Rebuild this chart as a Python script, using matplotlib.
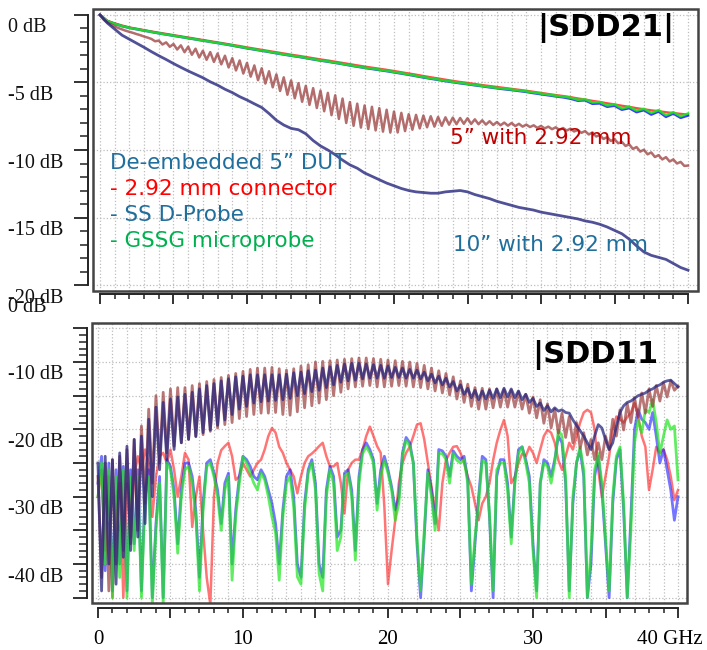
import numpy as np
import matplotlib
matplotlib.use("Agg")
import matplotlib.pyplot as plt
from matplotlib.patches import Rectangle
from matplotlib.ticker import MultipleLocator
from matplotlib.transforms import blended_transform_factory, ScaledTranslation

# frequency sweeps (GHz)
freq_half = np.arange(0, 40.01, 0.5)
freq_quarter = np.arange(0, 40.01, 0.25)

# ---- |SDD21| (dB) ----
s21_gssg = [0, -0.45, -0.65, -0.82, -0.95, -1.05, -1.15, -1.25, -1.35, -1.44,
            -1.53, -1.62, -1.71, -1.8, -1.89, -1.98, -2.07, -2.16, -2.25, -2.35,
            -2.45, -2.54, -2.63, -2.72, -2.82, -2.91, -3.0, -3.08, -3.17, -3.27,
            -3.36, -3.44, -3.53, -3.62, -3.72, -3.81, -3.9, -3.97, -4.05, -4.13,
            -4.22, -4.31, -4.4, -4.5, -4.6, -4.69, -4.78, -4.87, -4.95, -5.03,
            -5.1, -5.18, -5.25, -5.33, -5.4, -5.46, -5.52, -5.59, -5.66, -5.74,
            -5.82, -5.9, -5.98, -6.05, -6.12, -6.28, -6.25, -6.48, -6.45, -6.7,
            -6.62, -6.92, -6.8, -7.08, -6.95, -7.25, -7.05, -7.42, -7.2, -7.5, -7.3]
s21_conn = [0, -0.43, -0.62, -0.78, -0.92, -1.02, -1.12, -1.22, -1.31, -1.4,
            -1.49, -1.58, -1.67, -1.76, -1.85, -1.94, -2.03, -2.12, -2.21, -2.3,
            -2.4, -2.49, -2.58, -2.67, -2.76, -2.85, -2.94, -3.02, -3.11, -3.2,
            -3.29, -3.37, -3.46, -3.55, -3.64, -3.73, -3.82, -3.9, -3.98, -4.06,
            -4.15, -4.24, -4.33, -4.42, -4.52, -4.61, -4.7, -4.79, -4.88, -4.96,
            -5.03, -5.11, -5.19, -5.26, -5.33, -5.4, -5.47, -5.54, -5.61, -5.69,
            -5.77, -5.85, -5.93, -6.0, -6.08, -6.18, -6.26, -6.36, -6.44, -6.54,
            -6.62, -6.72, -6.8, -6.9, -6.98, -7.06, -7.12, -7.2, -7.26, -7.32, -7.38]
s21_sprobe = [0, -0.46, -0.66, -0.83, -0.96, -1.06, -1.16, -1.26, -1.36, -1.45,
              -1.54, -1.63, -1.72, -1.81, -1.9, -1.99, -2.08, -2.17, -2.27, -2.37,
              -2.47, -2.56, -2.65, -2.74, -2.84, -2.93, -3.02, -3.1, -3.19, -3.29,
              -3.38, -3.46, -3.55, -3.64, -3.74, -3.83, -3.92, -4.0, -4.08, -4.16,
              -4.25, -4.34, -4.43, -4.53, -4.63, -4.72, -4.81, -4.9, -4.98, -5.06,
              -5.13, -5.21, -5.28, -5.36, -5.43, -5.5, -5.56, -5.63, -5.7, -5.79,
              -5.87, -5.95, -6.03, -6.1, -6.2, -6.35, -6.32, -6.58, -6.55, -6.8,
              -6.72, -7.02, -6.9, -7.2, -7.05, -7.38, -7.15, -7.55, -7.3, -7.62, -7.45]
s21_5in = [0, -0.35, -0.55, -0.7, -0.85, -0.97, -1.07, -1.17,
           -1.25, -1.33, -1.42, -1.5, -1.6, -1.68, -1.78, -1.95,
           -1.9, -2.19, -2.03, -2.36, -2.15, -2.56, -2.25, -2.76,
           -2.35, -2.95, -2.5, -3.15, -2.65, -3.32, -2.75, -3.48,
           -2.85, -3.66, -3.02, -3.89, -3.2, -4.11, -3.37, -4.34,
           -3.55, -4.57, -3.74, -4.83, -3.95, -5.08, -4.17, -5.36,
           -4.4, -5.63, -4.62, -5.91, -4.85, -6.17, -5.05, -6.43,
           -5.25, -6.66, -5.42, -6.89, -5.6, -7.13, -5.77, -7.42,
           -5.95, -7.7, -6.19, -8.0, -6.45, -8.21, -6.57, -8.34,
           -6.7, -8.45, -6.8, -8.55, -6.9, -8.64, -7.02, -8.71,
           -7.15, -8.7, -7.25, -8.6, -7.35, -8.5, -7.4, -8.4,
           -7.45, -8.32, -7.5, -8.27, -7.55, -8.21, -7.58, -8.13,
           -7.6, -8.09, -7.63, -8.06, -7.65, -8.07, -7.73, -8.09,
           -7.8, -8.12, -7.87, -8.15, -7.93, -8.17, -7.97, -8.2,
           -8.0, -8.23, -8.06, -8.27, -8.12, -8.3, -8.17, -8.36,
           -8.22, -8.4, -8.27, -8.46, -8.32, -8.51, -8.37, -8.56,
           -8.42, -8.63, -8.52, -8.73, -8.6, -8.85, -8.7, -9.0,
           -8.9, -9.18, -9.05, -9.33, -9.2, -9.5, -9.4, -9.7,
           -9.58, -9.92, -9.78, -10.12, -9.98, -10.32, -10.18, -10.52,
           -10.38, -10.7, -10.53, -10.85, -10.7, -11.0, -10.88, -11.18,
           -11.15]
s21_10in = [0, -0.6, -1.05, -1.5, -1.8, -2.1, -2.4, -2.72, -3.02, -3.3,
            -3.6, -3.88, -4.15, -4.4, -4.65, -4.95, -5.2, -5.5, -5.75, -6.05,
            -6.3, -6.58, -6.85, -7.3, -7.8, -8.15, -8.4, -8.5, -8.8, -9.3,
            -9.7, -10.0, -10.35, -10.75, -11.1, -11.35, -11.7, -11.95, -12.2, -12.45,
            -12.65, -12.85, -13.0, -13.1, -13.15, -13.2, -13.2, -13.1, -13.05, -13.0,
            -13.1, -13.3, -13.45, -13.6, -13.8, -13.95, -14.1, -14.25, -14.35, -14.45,
            -14.6, -14.7, -14.8, -14.9, -15.0, -15.1, -15.25, -15.35, -15.5, -15.7,
            -15.95, -16.2, -16.6, -17.1, -17.55, -17.8, -17.95, -18.1, -18.4, -18.7, -18.9]

# ---- |SDD11| (dB) ----
s11_5in = [-27, -42, -25, -44, -24.5, -40, -24, -38,
           -23, -37, -21.5, -35, -19.5, -31, -17, -28,
           -15, -25, -14.5, -23.5, -14, -22.5, -13.8, -22,
           -13.8, -21.5, -13.5, -21, -13.2, -20.8, -12.9, -20.3,
           -12.6, -19.8, -12.3, -19.3, -12.0, -19.0, -11.7, -18.4,
           -11.4, -18.1, -11.1, -17.8, -10.9, -17.6, -10.9, -17.6,
           -10.8, -17.5, -11.0, -17.8, -11.2, -17.9, -11.0, -17.4,
           -10.6, -16.8, -10.4, -16.5, -10.0, -16.1, -9.9, -15.6,
           -9.8, -15.0, -9.7, -14.5, -9.6, -14.0, -9.5, -13.7,
           -9.4, -13.6, -9.4, -13.5, -9.5, -13.7, -9.6, -13.7,
           -9.7, -13.6, -9.8, -13.5, -9.9, -13.6, -10.0, -13.7,
           -10.2, -13.8, -10.5, -14.0, -10.9, -14.3, -11.3, -14.6,
           -11.7, -14.9, -12.2, -15.5, -12.8, -16.0, -13.3, -16.6,
           -13.8, -17.0, -13.9, -17.0, -14.0, -16.8, -14.0, -16.7,
           -14.1, -16.7, -14.2, -16.7, -14.4, -17.0, -14.8, -17.6,
           -15.2, -18.3, -15.6, -19.1, -16.2, -19.8, -17.0, -20.6,
           -17.6, -21.2, -18.1, -22.0, -19.0, -22.8, -20.5, -23.8,
           -21.5, -24.5, -22.0, -24.5, -21.0, -23.0, -18.5, -21.0,
           -17.1, -20.1, -16.2, -19.0, -15.3, -18.2, -14.6, -17.6,
           -14.0, -16.6, -13.5, -15.8, -13.1, -15.2, -12.8, -14.2,
           -13.6]
s11_10in = [-25, -44, -24, -40, -24.5, -43, -23.5, -39,
            -22.5, -38, -21.5, -36, -21, -34, -18.5, -30,
            -16.7, -26, -16, -24.5, -15.5, -23, -15.2, -22,
            -14.8, -21.5, -14.5, -21.1, -14.0, -20.5, -13.5, -20.1,
            -13.2, -19.4, -12.8, -18.6, -12.5, -17.8, -12.2, -17.0,
            -12.1, -16.6, -11.9, -16.1, -11.9, -15.9, -11.9, -15.8,
            -11.9, -15.7, -11.9, -15.6, -11.8, -15.4, -11.6, -15.0,
            -11.5, -14.7, -11.3, -14.4, -11.2, -14.2, -10.9, -13.8,
            -10.7, -13.4, -10.5, -13.0, -10.3, -12.8, -10.2, -12.7,
            -10.2, -12.5, -10.3, -12.4, -10.4, -12.4, -10.5, -12.4,
            -10.6, -12.3, -10.8, -12.3, -10.9, -12.4, -11.1, -12.4,
            -11.2, -12.5, -11.5, -12.8, -11.8, -13.1, -12.1, -13.4,
            -12.4, -13.7, -12.9, -14.3, -13.4, -14.8, -13.9, -15.3,
            -14.2, -15.6, -14.3, -15.5, -14.2, -15.4, -14.0, -15.3,
            -13.9, -15.2, -14.0, -15.3, -14.3, -15.6, -14.8, -16.0,
            -15.4, -16.6, -16.1, -17.2, -16.5, -17.4, -16.8, -17.3,
            -17.1, -17.5, -17.6, -18.6, -19.4, -20.2, -21.0, -22.0,
            -23.0, -21.0, -19.3, -19.8, -21.5, -23.0, -22.0, -19.5,
            -17.5, -16.5, -16.0, -15.8, -15.4, -15.0, -14.8, -14.6,
            -14.2, -14.0, -13.6, -13.4, -13.0, -12.8, -12.7, -13.2,
            -13.7]
s11_conn = [-30, -26, -38, -27, -45, -30, -28, -45,
            -28, -36, -27, -24, -26, -23, -25, -33,
            -27, -24, -23.5, -25, -23, -26, -30, -27,
            -23.5, -24.5, -34.5, -30, -27, -35, -42, -46,
            -30, -25, -23.1, -22.5, -22, -24, -27.5, -27,
            -25, -26, -27, -26, -25, -24.5, -23, -21,
            -19.8, -20.5, -22.6, -23.5, -25, -26, -27, -29.5,
            -27, -25, -24, -23.6, -23.1, -22.5, -22.0, -24,
            -25.5, -25.5, -25, -28, -32.5, -26, -25, -24.5,
            -24.5, -23, -21, -19.6, -21, -22.5, -23.5, -31.5,
            -43, -38, -33.5, -28, -25, -23.5, -22.6, -21,
            -19.3, -19.1, -21.5, -25, -28.5, -32, -35, -28,
            -24.6, -23.5, -22.6, -22.5, -23.5, -25, -27, -28.5,
            -31, -33.5, -31, -30, -28, -24.6, -22, -20.1,
            -18.6, -21, -28, -27, -25, -23.6, -24, -22.6,
            -23.5, -25, -23, -21, -20.1, -20.5, -22, -24.6,
            -26, -24, -22, -23, -21, -19, -17.5, -17.1,
            -17.5, -20, -26, -30, -27, -24, -20, -18.1,
            -18.5, -19, -18.2, -17.5, -16.1, -18, -21, -22.6,
            -29, -26, -22.6, -23.5, -23, -24.5, -27, -30.5,
            -29]
s11_sprobe = [-28, -24, -41, -25, -44, -26, -40, -25.5,
              -44, -26, -37, -26, -44, -29, -26, -45,
              -34, -27, -45, -24.5, -25.5, -29, -37, -29,
              -25, -25, -27, -32, -42, -31, -25, -24.5,
              -26.5, -29, -34, -28, -26.5, -40, -32, -27,
              -24, -24.5, -25.5, -27, -27.5, -26, -27, -29,
              -31, -34, -40, -32, -27, -26, -30, -40,
              -42, -31, -26, -24.5, -28, -40, -42, -29,
              -25.5, -27, -36, -35, -26.5, -26, -29, -38,
              -27, -23, -22, -23, -24.5, -31, -26, -24,
              -26, -28.5, -32, -30, -23.5, -21.2, -22, -25,
              -37, -45, -36, -26, -29, -34, -23, -23.2,
              -24, -27, -23.2, -24, -24.5, -24, -27.5, -44,
              -37, -30, -24, -24.5, -33, -45, -27, -24.5,
              -24.5, -28, -36, -27.5, -23, -22.6, -24.5, -27,
              -37, -44, -28, -24.5, -25, -27, -24.5, -21,
              -22, -28, -44, -31, -25, -23, -27, -45,
              -40, -27, -24, -29, -37, -45, -31, -24.5,
              -23, -32, -45, -33, -20, -17.1, -18.5, -19,
              -20, -17.5, -21, -25, -23, -26, -29, -33.5,
              -30]
s11_gssg = [-30, -25, -40, -26, -45, -27, -42, -26,
            -45, -27, -38, -27, -45, -30, -27, -46,
            -35, -28, -46, -25, -26, -30, -38.4, -30,
            -26, -25.5, -28, -33, -44, -32, -25.5, -25,
            -27, -30, -35, -29, -27, -42.4, -33, -28,
            -24.1, -25, -26.5, -28, -29, -26.5, -27.5, -30,
            -33, -35.4, -42.4, -33, -28, -27, -31.5, -41.9,
            -43, -32, -26.5, -25, -29, -41.4, -44, -30,
            -26, -28, -38, -36, -27, -26.5, -30, -39.4,
            -28, -23.6, -22.6, -23.5, -25, -32, -27, -24.6,
            -26.5, -29, -33.5, -31, -24, -21.6, -22.5, -25,
            -36, -44, -35, -26.5, -30, -35, -23.6, -23.6,
            -24.5, -28, -23.6, -24.6, -25, -24.5, -28, -43,
            -36, -31, -24.6, -25, -32.5, -44, -26, -25,
            -25, -29, -37, -28, -23.6, -22.6, -25, -28,
            -38, -45, -28, -25, -25.5, -28, -25, -20.1,
            -21, -27, -45, -30, -25, -22.6, -26, -45,
            -38, -26, -23.6, -28, -36, -44, -30, -24,
            -22.6, -31, -45, -35, -22, -18.6, -20.5, -17.1,
            -17.5, -15.6, -19, -23.6, -21, -18.6, -20, -19.5,
            -27.5]

# text
legend_lines = ["De-embedded 5\u201d DUT", "- 2.92 mm connector",
                "- SS D-Probe", "- GSSG microprobe"]
legend_colors = ["#1f6e9c", "#ff0000", "#1f6e9c", "#00b050"]
top_ticks = [0, -5, -10, -15, -20]
bottom_ticks = [0, -10, -20, -30, -40]

RED = "#ff1a1a"
BLUE = "#1a1aff"
GREEN = "#1ee61e"
BROWN = "#9a3c3c"
NAVY = "#26267e"
SERIF = "Liberation Serif"

W, H = 707, 650
fig = plt.figure(figsize=(W / 100, H / 100), dpi=100)
ax1 = fig.add_axes([93 / W, 1 - 291 / H, 605 / W, 282 / H])
ax2 = fig.add_axes([92 / W, 1 - 603 / H, 595 / W, 280 / H])


def style_axes(ax, ylim, ybounds, xoffset):
    ax.set_xlim(*ylim[0])
    ax.set_ylim(*ylim[1])
    ax.spines['top'].set_visible(False)
    ax.spines['right'].set_visible(False)
    ax.spines['left'].set_position(('outward', 3.6))
    ax.spines['left'].set_bounds(*ybounds)
    ax.spines['bottom'].set_position(('outward', xoffset))
    ax.spines['bottom'].set_bounds(0, 40)
    for s in ('left', 'bottom'):
        ax.spines[s].set_linewidth(1.4)
        ax.spines[s].set_color('#222222')
    ax.add_patch(Rectangle((0, 0), 1, 1, transform=ax.transAxes, fill=False,
                           ec='#444444', lw=1.8, clip_on=False, zorder=6))
    ax.xaxis.set_major_locator(MultipleLocator(5))
    ax.xaxis.set_minor_locator(MultipleLocator(1))
    ax.yaxis.set_major_locator(MultipleLocator(5))
    ax.yaxis.set_minor_locator(MultipleLocator(1))
    ax.tick_params(axis='y', which='major', length=10, width=1.3, color='#222222', labelleft=False)
    ax.tick_params(axis='y', which='minor', length=6, width=1.1, color='#222222')
    ax.tick_params(axis='x', which='major', length=7, width=1.3, color='#222222')
    ax.tick_params(axis='x', which='minor', length=3.5, width=1.1, color='#222222')
    ax.grid(True, which='both', axis='x', ls=':', color='#bdbdbd', lw=0.9)
    ax.grid(True, which='major', axis='y', ls=':', color='#bdbdbd', lw=0.9)
    ax.set_axisbelow(True)


def side_labels(ax, values):
    trans = blended_transform_factory(fig.transFigure, ax.transData) + \
        ScaledTranslation(0, -13 / 100, fig.dpi_scale_trans)
    for v in values:
        fig.text(8 / W, v, "%d dB" % v, transform=trans, ha='left', va='center',
                 family=SERIF, fontsize=14.5, color='#111111')


style_axes(ax1, ((-0.476, 40.68), (-20.44, 0.44)), (-20, 0), 2.2)
style_axes(ax2, ((-0.41, 40.62), (-45.79, -4.21)), (-45, -5), 3.6)
ax1.tick_params(axis='x', labelbottom=False)
ax2.set_xticks(np.arange(0, 41, 5), ['0', '', '10', '', '20', '', '30', '', ''])
ax2.tick_params(axis='x', which='major', pad=9, labelsize=15)
for lab in ax2.get_xticklabels():
    lab.set_family(SERIF)

# last frequency label sits a little left of its tick, as in the source chart
ax2.text(40, 0, "40 GHz", transform=blended_transform_factory(ax2.transData, fig.transFigure)
         + ScaledTranslation(-8 / 100, 0, fig.dpi_scale_trans),
         ha='center', va='center', family=SERIF, fontsize=15, clip_on=False)
# put it on the same baseline as the other labels
fig.canvas.draw()
ref_lab = ax2.get_xticklabels()[0]
bb = ref_lab.get_window_extent()
ax2.texts[-1].set_y((bb.y0 + bb.y1) / 2 / fig.bbox.height)

side_labels(ax1, top_ticks)
side_labels(ax2, bottom_ticks)

# top panel
ax1.plot(freq_half, s21_conn, color=RED, lw=1.6, alpha=0.8)
ax1.plot(freq_half, s21_sprobe, color=BLUE, lw=1.8, alpha=0.85)
ax1.plot(freq_half, s21_gssg, color=GREEN, lw=1.8, alpha=0.9)
ax1.plot(freq_quarter, s21_5in, color=BROWN, lw=1.8, alpha=0.75)
ax1.plot(freq_half, s21_10in, color=NAVY, lw=2.0, alpha=0.8)

# bottom panel
ax2.plot(freq_quarter, s11_conn, color=RED, lw=1.8, alpha=0.6)
ax2.plot(freq_quarter, s11_sprobe, color=BLUE, lw=2.0, alpha=0.6)
ax2.plot(freq_quarter, s11_gssg, color=GREEN, lw=2.0, alpha=0.7)
ax2.plot(freq_quarter, s11_5in, color=BROWN, lw=2.0, alpha=0.7)
ax2.plot(freq_quarter, s11_10in, color=NAVY, lw=2.0, alpha=0.75)

# annotations
for k, (txt, col) in enumerate(zip(legend_lines, legend_colors)):
    fig.text(110 / W, 1 - (169 + 26 * k) / H, txt, color=col, fontsize=15.5,
             family='DejaVu Sans', va='baseline', ha='left')
fig.text(450 / W, 1 - 144 / H, "5\u201d with 2.92 mm", color='#c00000',
         fontsize=15.5, family='DejaVu Sans', va='baseline')
fig.text(453 / W, 1 - 251 / H, "10\u201d with 2.92 mm", color='#1f6e9c',
         fontsize=15.5, family='DejaVu Sans', va='baseline')
fig.text(537 / W, 1 - 36 / H, "|SDD21|", fontsize=22, fontweight='bold',
         family='DejaVu Sans', va='baseline')
fig.text(532 / W, 1 - 363 / H, "|SDD11", fontsize=22, fontweight='bold',
         family='DejaVu Sans', va='baseline')

fig.savefig("out.png", dpi=100)
